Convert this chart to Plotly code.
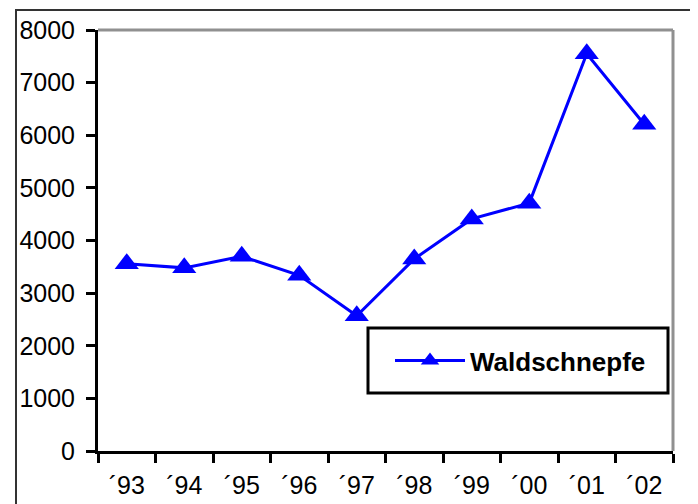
import plotly.graph_objects as go

years = ["´93", "´94", "´95", "´96", "´97", "´98", "´99", "´00", "´01", "´02"]
waldschnepfe = [3560, 3480, 3700, 3340, 2570, 3650, 4410, 4710, 7550, 6210]

FONT = "Arial, Liberation Sans, sans-serif"
OFF = 8  # page body margin
W, H = 698 - OFF, 504 - OFF
L, R, T, B = 98 - OFF, 25, 30 - OFF, 53
pw, ph = W - L - R, H - T - B


def px_x(x):
    return (x - OFF - L) / pw


def px_y(y):
    return (H - B - (y - OFF)) / ph


fig = go.Figure()
fig.add_trace(go.Scatter(
    x=years, y=waldschnepfe,
    mode="lines+markers",
    name="<b>Waldschnepfe</b>",
    line=dict(color="#0000FF", width=3),
    marker=dict(symbol="triangle-up", size=21, color="#0000FF"),
))

shapes = [
    # gray top/right frame of the plot area
    dict(type="line", xref="paper", yref="paper", x0=0, x1=1, y0=1, y1=1,
         line=dict(color="#909090", width=3)),
    dict(type="line", xref="paper", yref="paper", x0=1, x1=1, y0=0, y1=1,
         line=dict(color="#909090", width=3)),
    # outer chart border
    dict(type="rect", xref="paper", yref="paper",
         x0=px_x(16), x1=px_x(693), y0=px_y(515), y1=px_y(10),
         line=dict(color="#333333", width=2)),
    # legend box
    dict(type="rect", xref="paper", yref="paper",
         x0=px_x(368), x1=px_x(668), y0=px_y(393), y1=px_y(328),
         fillcolor="white", line=dict(color="black", width=3)),
]

fig.update_layout(
    width=W, height=H,
    margin=dict(l=L, r=R, t=T, b=B),
    plot_bgcolor="white", paper_bgcolor="white",
    font=dict(family=FONT, size=25, color="black"),
    showlegend=True,
    legend=dict(x=px_x(390), y=px_y(360.5), xanchor="left", yanchor="middle",
                bgcolor="rgba(0,0,0,0)", borderwidth=0, itemwidth=70,
                font=dict(family=FONT, size=26, color="black")),
    shapes=shapes,
)
fig.update_xaxes(
    type="category", tickson="boundaries", automargin=False,
    range=[-0.5, len(years) - 0.5],
    showline=True, linecolor="black", linewidth=3,
    ticks="outside", ticklen=9, tickwidth=3, tickcolor="black",
    showgrid=False, zeroline=False, ticklabelstandoff=10,
)
fig.update_yaxes(
    range=[0, 8000], dtick=1000, automargin=False,
    showline=True, linecolor="black", linewidth=3,
    ticks="outside", ticklen=9, tickwidth=3, tickcolor="black",
    showgrid=False, zeroline=False, ticklabelstandoff=6,
)

fig.write_html("out.html")
